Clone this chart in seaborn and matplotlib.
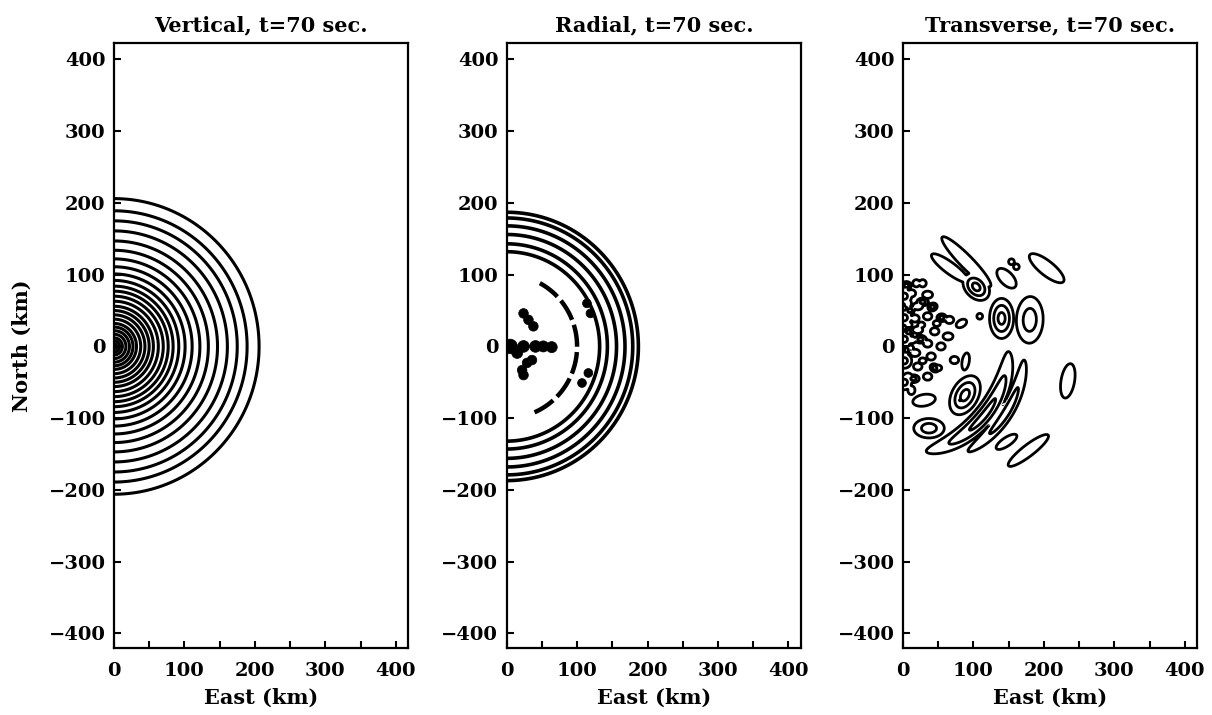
import numpy as np
import pandas as pd
import matplotlib
matplotlib.use("Agg")
import matplotlib.pyplot as plt
from matplotlib.ticker import MultipleLocator
import seaborn as sns

# ---------------- data ----------------
titles = ["Vertical, t=70 sec.", "Radial, t=70 sec.", "Transverse, t=70 sec."]
x_ticks = [0, 100, 200, 300, 400]
y_ticks = [-400, -300, -200, -100, 0, 100, 200, 300, 400]

# Vertical component: ring radii (km)
vertical_ring_radii = [4, 8, 12, 17, 22, 27, 32, 38, 44, 50, 56, 63, 70, 77, 84,
                       92, 101, 111, 122, 134, 147, 161, 175, 189, 206]

# Radial component: ring radii (km), dashed inner arc, isolated dots
radial_ring_radii = [132, 143, 156, 168, 179, 187]
radial_arc_radius = [100]
radial_arc_span = [-68, 62]      # degrees
radial_dot_x = [5, 24, 41, 52, 64, 24, 31, 38, 15, 29, 36, 22, 24, 114, 119, 116, 107]
radial_dot_y = [0, 0, 0, 0, -1, 46, 37, 28, -9, -23, -19, -33, -40, 60, 46, -37, -51]
radial_dot_s = [70, 45, 45, 40, 40, 30, 30, 30, 40, 30, 30, 30, 30, 25, 25, 25, 25]

# Transverse component: elliptical blobs (x, y, sigma_major, sigma_minor, angle, amplitude)
tb_x = [204, 67, 90, 147, 104, 154, 161, 140, 180, 109, 234, 178, 147, 88, 37, 30,
        19, 28, 12, 35, 7, 21, 17, 35, 66, 83, 21, 45, 64, 12, 35, 54, 17, 40, 73,
        21, 7, 35, 12, 89, 2, 2, 2, 2, 2, 81, 8, 26, 48, 10, 28, 50,
        5, 10, 28, 5, 15, 45, 55, 42, 8, 25]
tb_y = [109, 109, 118, 95, 83, 118, 111, 39, 37, 42, -48, -145, -133, -68, -114, -75,
        88, 88, 74, 72, 60, 56, 39, 42, 37, 32, 23, 21, 14, 9, 4, 0, -9, -14, -19,
        -28, -42, -42, -61, -21, 70, 40, 10, -20, -50, -75, 30, 30, 32, -2, -20, -30,
        85, 50, 62, -5, -45, -30, 40, 55, 20, 10]
tb_sa = [30, 32, 48, 17, 14, 4, 4, 18, 24, 4, 24, 35, 17, 19, 16, 16,
         5, 5, 6, 7, 6, 7, 6, 6, 6, 8, 7, 6, 7, 7, 6, 6, 7, 6, 6,
         6, 6, 6, 6, 12, 8, 8, 8, 8, 8, 3, 5, 5, 5, 5, 5, 5,
         5, 5, 6, 5, 6, 5, 5, 5, 5, 6]
tb_sb = [10, 8, 9, 9, 10, 4, 4, 11, 14, 4, 9.5, 8, 6, 12, 10, 8,
         5, 5, 5, 5, 5, 5, 5, 5, 5, 5, 5, 5, 5, 5, 5, 5, 5, 5, 5,
         5, 5, 5, 5, 5, 8, 8, 8, 8, 8, 3, 4, 4, 4, 4, 4, 4,
         4, 4, 4, 4, 4, 4, 4, 4, 4, 4]
tb_ang = [-38, -36, -45, -45, -45, 0, 0, 90, 88, 0, 80, 37, 33, 60, 0, 10,
          0, 0, 0, 0, 90, 0, 0, 0, 0, 30, 0, 0, 0, 0, 0, 0, 0, 0, 0,
          0, 0, 0, 90, 80, 90, 90, 90, 90, 90, 0, 0, 0, 0, 0, 0, 0,
          0, 30, 0, 90, 0, -30, 0, 20, 0, 0]
tb_amp = [0.5, 0.5, 0.5, 0.5, 1.0, 0.5, 0.5, 1.0, 0.75, 0.5, 0.5, 0.5, 0.5, 1.0, 0.75, 0.5,
          0.5, 0.5, 0.5, 0.5, 0.5, 0.5, 0.5, 0.5, 0.5, 0.5, 0.5, 0.5, 0.5, 0.5, 0.5, 0.5,
          0.5, 0.5, 0.5, 0.5, 0.5, 0.5, 0.5, 0.5, 0.7, 0.7, 0.7, 0.7, 0.7, 0.95,
          0.5, 0.5, 0.5, 0.5, 0.5, 0.5,
          0.75, 0.75, 0.75, 0.75, 0.75, 0.75, 0.75, 0.75, 0.75, 0.75]

# Transverse component: curved bands (radius, azimuth, sigma_r, sigma_az, amplitude)
band_r = [150, 173]
band_theta = [-40, -32]
band_sr = [9, 7]
band_st = [24, 19]
band_amp = [1.0, 0.75]
transverse_levels = [0.3, 0.6, 0.9]

# ---------------- figure ----------------
sns.set_theme(style="white")
plt.rcParams["font.family"] = ["DejaVu Serif"]
plt.rcParams["font.weight"] = "bold"
for k in ["text.color", "axes.labelcolor", "xtick.color", "ytick.color", "axes.edgecolor"]:
    plt.rcParams[k] = "black"

fig = plt.figure(figsize=(12.12, 7.15), dpi=100)
lefts = [0.094, 0.418, 0.745]
axes = [fig.add_axes([l, 0.094, 0.243, 0.846]) for l in lefts]

gx = np.linspace(0, 420, 421)
gy = np.linspace(-424, 426, 851)
X, Y = np.meshgrid(gx, gy)
R = np.hypot(X, Y)
TH = np.degrees(np.arctan2(Y, X))

# Vertical
ax = axes[0]
ax.contour(X, Y, R, levels=vertical_ring_radii, colors="black", linewidths=2.2)

# Radial
ax = axes[1]
ax.contour(X, Y, R, levels=radial_ring_radii, colors="black", linewidths=2.6)
Rm = np.ma.masked_where((TH < radial_arc_span[0]) | (TH > radial_arc_span[1]), R)
ax.contour(X, Y, Rm, levels=radial_arc_radius, colors="black", linewidths=3.2,
           linestyles=[(0, (5, 1.2))])
dots = pd.DataFrame({"x": radial_dot_x, "y": radial_dot_y, "s": radial_dot_s})
sns.scatterplot(data=dots, x="x", y="y", size="s", sizes=(40, 110), color="black",
                edgecolor="black", legend=False, ax=ax)

# Transverse
ax = axes[2]
F = np.zeros_like(X)
for cx, cy, sa, sb, ang, amp in zip(tb_x, tb_y, tb_sa, tb_sb, tb_ang, tb_amp):
    t = np.radians(ang)
    dx, dy = X - cx, Y - cy
    u = dx * np.cos(t) + dy * np.sin(t)
    v = -dx * np.sin(t) + dy * np.cos(t)
    F = np.maximum(F, amp * np.exp(-0.5 * ((u / sa) ** 2 + (v / sb) ** 2)))
for r0, th0, sr, st, amp in zip(band_r, band_theta, band_sr, band_st, band_amp):
    F = np.maximum(F, amp * np.exp(-0.5 * (((R - r0) / sr) ** 2 + ((TH - th0) / st) ** 2)))
ax.contour(X, Y, F, levels=transverse_levels, colors="black", linewidths=2.0)

for i, ax in enumerate(axes):
    ax.set_xlim(0, 418)
    ax.set_ylim(-420, 423)
    ax.set_xticks(x_ticks)
    ax.set_yticks(y_ticks)
    ax.xaxis.set_minor_locator(MultipleLocator(50))
    ax.tick_params(axis="both", which="both", direction="in", length=5, width=1.5,
                   labelsize=14, bottom=True, left=True, top=False, right=False,
                   colors="black")
    ax.tick_params(axis="x", which="both", pad=10)
    ax.tick_params(axis="y", which="both", pad=6)
    ax.set_xticklabels([str(v) for v in x_ticks], fontweight="bold")
    ax.set_yticklabels([str(v).replace("-", "\u2212") for v in y_ticks], fontweight="bold")
    for sp in ax.spines.values():
        sp.set_color("black")
        sp.set_linewidth(1.6)
    ax.set_title(titles[i], fontsize=15, fontweight="bold", pad=8)
    ax.set_xlabel("East (km)", fontsize=15, fontweight="bold", labelpad=6)
    ax.set_ylabel("")
axes[0].set_ylabel("North (km)", fontsize=15, fontweight="bold", labelpad=12)

fig.savefig("out.png", dpi=100, facecolor="white")
